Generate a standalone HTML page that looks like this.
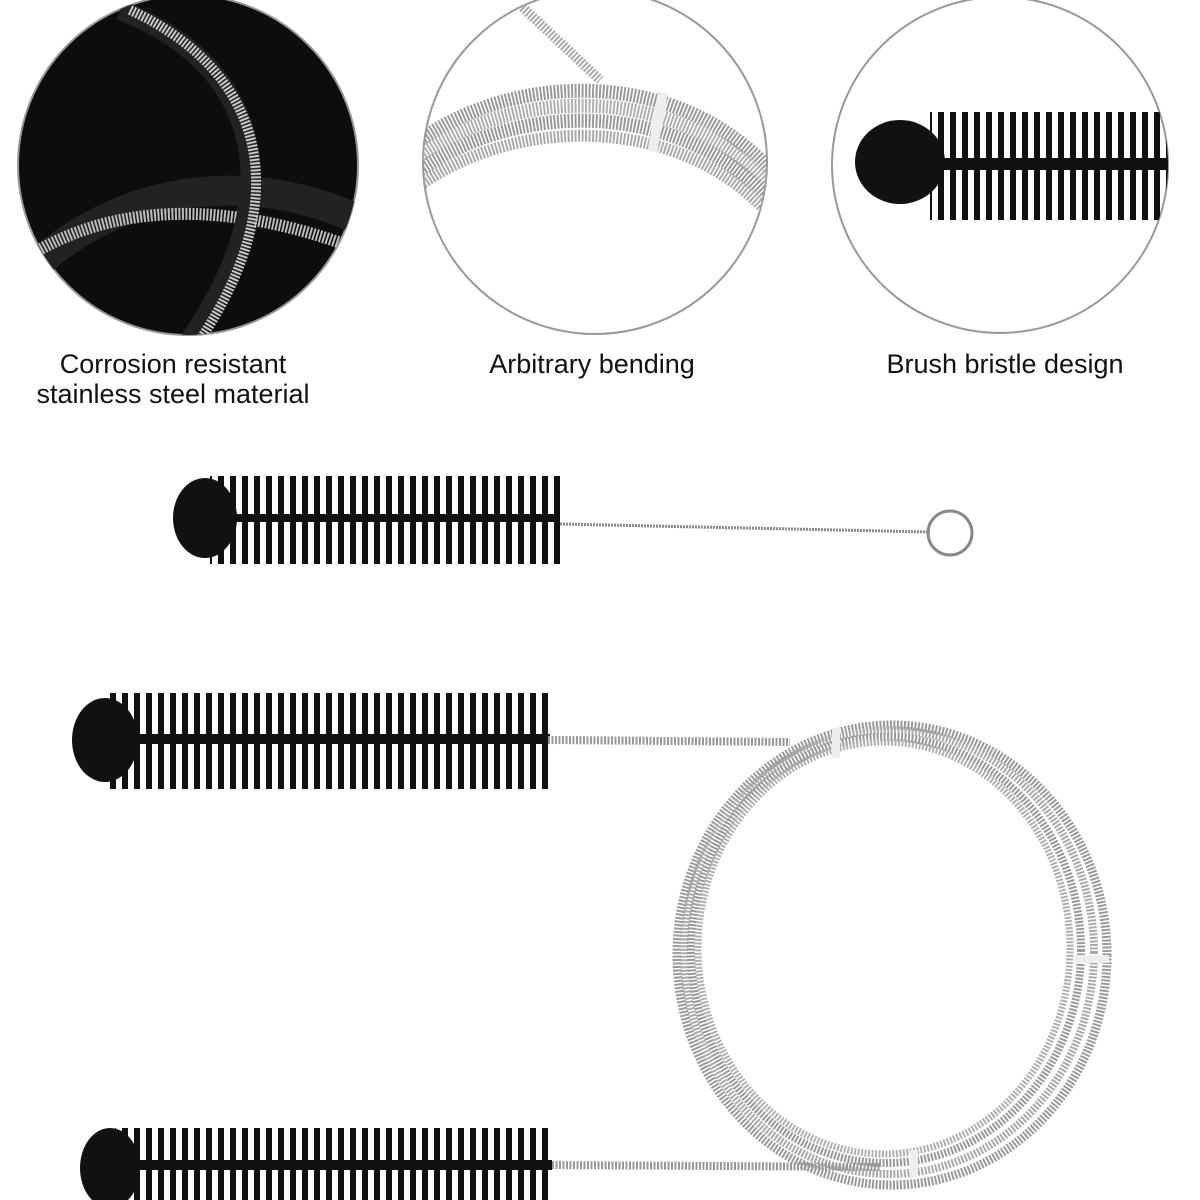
<!DOCTYPE html>
<html><head><meta charset="utf-8"><style>
html,body{margin:0;padding:0;background:#fff;width:1200px;height:1200px;overflow:hidden}
svg{display:block}
text{font-family:"Liberation Sans",sans-serif;font-size:27px;fill:#111}
</style></head><body>
<svg width="1200" height="1200" viewBox="0 0 1200 1200">
<defs>
<pattern id="br" width="12" height="200" patternUnits="userSpaceOnUse">
<rect x="2" y="0" width="6" height="200" fill="#111"/>
</pattern>
<clipPath id="c1"><circle cx="188" cy="165" r="170"/></clipPath>
<clipPath id="c2"><circle cx="595" cy="162" r="172"/></clipPath>
<clipPath id="c3"><circle cx="1000" cy="165" r="168"/></clipPath>
</defs>

<circle cx="188" cy="165" r="170" fill="#0d0d0d" stroke="#999" stroke-width="2"/>
<g clip-path="url(#c1)" fill="none">
<path d="M20 280 C 120 180, 250 170, 360 220" stroke="#222" stroke-width="30"/>
<path d="M20 262 C 110 200, 230 200, 360 250" stroke="#bbb" stroke-width="12" stroke-dasharray="2 1.5"/>
<path d="M120 10 C 250 60, 300 180, 190 340" stroke="#222" stroke-width="20"/>
<path d="M130 10 C 260 70, 300 190, 200 340" stroke="#c8c8c8" stroke-width="10" stroke-dasharray="2 1.5"/>
</g>

<circle cx="595" cy="162" r="172" fill="#fff" stroke="#999" stroke-width="2"/>
<g clip-path="url(#c2)" fill="none">
<path d="M520 5 L 600 80" stroke="#aaa" stroke-width="10" stroke-dasharray="2 1.5"/>
<path d="M420 140 C 520 70, 680 70, 770 170" stroke="#9a9a9a" stroke-width="14" stroke-dasharray="2 1.5"/>
<path d="M420 155 C 520 85, 680 85, 770 185" stroke="#b0b0b0" stroke-width="14" stroke-dasharray="2 1.5"/>
<path d="M420 170 C 520 100, 680 100, 770 200" stroke="#999" stroke-width="14" stroke-dasharray="2 1.5"/>
<path d="M420 185 C 520 115, 680 115, 770 215" stroke="#aaa" stroke-width="12" stroke-dasharray="2 1.5"/>
<rect x="653" y="92" width="10" height="60" fill="#eee" transform="rotate(10 658 120)"/>
</g>

<circle cx="1000" cy="165" r="168" fill="#fff" stroke="#999" stroke-width="2"/>
<g clip-path="url(#c3)">
<rect x="930" y="112" width="240" height="108" fill="url(#br)"/>
<rect x="860" y="158" width="310" height="12" fill="#111"/>
<ellipse cx="900" cy="162" rx="45" ry="42" fill="#111"/>
</g>

<text x="173" y="373" text-anchor="middle">Corrosion resistant</text>
<text x="173" y="403" text-anchor="middle">stainless steel material</text>
<text x="592" y="373" text-anchor="middle">Arbitrary bending</text>
<text x="1005" y="373" text-anchor="middle">Brush bristle design</text>

<rect x="210" y="476" width="350" height="88" fill="url(#br)"/>
<rect x="185" y="514" width="375" height="8" fill="#111"/>
<ellipse cx="205" cy="518" rx="32" ry="40" fill="#111"/>
<line x1="560" y1="524" x2="930" y2="532" stroke="#888" stroke-width="3" stroke-dasharray="2 1"/>
<circle cx="950" cy="533" r="22" fill="none" stroke="#888" stroke-width="3"/>

<rect x="110" y="693" width="440" height="96" fill="url(#br)"/>
<rect x="80" y="734" width="470" height="10" fill="#111"/>
<ellipse cx="105" cy="740" rx="33" ry="42" fill="#111"/>
<path d="M548 740 L 790 742" stroke="#999" stroke-width="8" stroke-dasharray="2 1.5" fill="none"/>

<g fill="none" stroke-dasharray="2 1.5">
<ellipse cx="892" cy="955" rx="215" ry="230" stroke="#9a9a9a" stroke-width="9"/>
<ellipse cx="889" cy="952" rx="205" ry="222" stroke="#aaa" stroke-width="8"/>
<ellipse cx="886" cy="950" rx="195" ry="213" stroke="#999" stroke-width="8"/>
<ellipse cx="884" cy="948" rx="186" ry="206" stroke="#b0b0b0" stroke-width="7"/>
</g>
<rect x="832" y="728" width="8" height="30" fill="#eee"/>
<rect x="1075" y="955" width="34" height="8" fill="#eee"/>
<rect x="910" y="1150" width="8" height="28" fill="#eee"/>

<rect x="115" y="1128" width="437" height="72" fill="url(#br)"/>
<rect x="85" y="1160" width="467" height="10" fill="#111"/>
<ellipse cx="110" cy="1168" rx="30" ry="40" fill="#111"/>
<path d="M552 1165 L 880 1167" stroke="#999" stroke-width="8" stroke-dasharray="2 1.5" fill="none"/>
</svg>
</body></html>
